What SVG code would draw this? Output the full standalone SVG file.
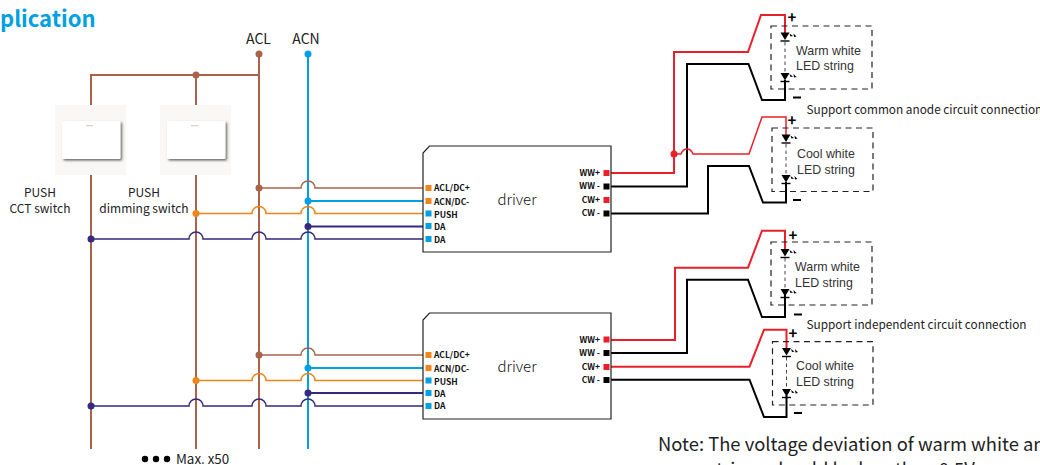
<svg xmlns="http://www.w3.org/2000/svg" width="1040" height="465" viewBox="0 0 1040 465">
<style>
text{font-family:"Noto Sans CJK SC","Noto Sans",sans-serif;fill:#222}
.a{font-family:"Liberation Sans",Arial,sans-serif;font-size:12.400px;fill:#333}
.s{font-size:12px}
.n{font-size:11.800px}
.m{text-anchor:middle}
.p{font-size:8.500px;font-weight:700;fill:#111}
.e{text-anchor:end}
.w{fill:none;stroke-width:2;stroke-linejoin:miter}
.t{fill:none;stroke-width:1.500}
.br{stroke:#a9634a}.bl{stroke:#00a0e2}.or{stroke:#f08519}.nv{stroke:#36297f}.rd{stroke:#e8202a}.bk{stroke:#000}
.box{fill:#fff;stroke:#222;stroke-width:1.200}
.d{fill:none;stroke:#222;stroke-width:1.200;stroke-dasharray:6 4.500}
.plate{fill:#f9f8f6}
.key{fill:#fff}
.chain{fill:none;stroke:#444;stroke-dasharray:3.500 3}
.drv{font-size:15px;font-weight:300;fill:#111}
</style>
<defs>
<filter id="sh" x="-10%" y="-10%" width="125%" height="125%"><feDropShadow dx="1.500" dy="1.500" stdDeviation="1" flood-color="#555" flood-opacity=".9"/></filter>
<g id="led"><path d="M-4.500-4H4.500L0 3.500Z" fill="#000"/><path d="M-4.500 4.500H4.500" stroke="#000" stroke-width="1.400"/><path d="M4.500-3L8-.500L5.500 0ZM8.500-3L11.500 0L9 .500Z" fill="#000"/></g>
<g id="sw"><rect class="plate" width="71" height="70"/><rect class="key" x="7" y="16" width="58.500" height="38" rx="1" filter="url(#sh)"/><rect x="31" y="20" width="7" height="1.300" fill="#d8d4c8"/></g>
<g id="drv"><path class="box" d="M429.500 0H611V106H423V7Z"/></g>
</defs>
<text x="0" y="27" font-size="22" font-weight="700" style="fill:#00a0e2">plication</text>
<g id="connectors">
<path class="w br" d="M91 105V75H259M196 105V75M91 174V449M196 174V449M259 54V449"/>
<path class="w bl" d="M308 54V449"/>
<g id="wires-top">
<path class="t br" d="M259 188H301A7 7 0 0 1 315 188H426"/>
<path class="w bl" d="M308 201H426"/>
<path class="t or" d="M196 213.500H252A7 7 0 0 1 266 213.500H301A7 7 0 0 1 315 213.500H426"/>
<path class="w nv" d="M308 226.500H426"/>
<path class="t nv" d="M91 239H189A7 7 0 0 1 203 239H252A7 7 0 0 1 266 239H301A7 7 0 0 1 315 239H426"/>
</g>
<g id="wires-bottom">
<path class="t br" d="M259 355H301A7 7 0 0 1 315 355H426"/>
<path class="w bl" d="M308 368H426"/>
<path class="t or" d="M196 380.500H252A7 7 0 0 1 266 380.500H301A7 7 0 0 1 315 380.500H426"/>
<path class="w nv" d="M308 393H426"/>
<path class="t nv" d="M91 406H189A7 7 0 0 1 203 406H252A7 7 0 0 1 266 406H301A7 7 0 0 1 315 406H426"/>
</g>
<path class="w rd" d="M609 173H674V52H748L761 15H785V33"/>
<path class="w bk" d="M609 186.500H687V64H748.500L762 100H785V80"/>
<path class="t rd" d="M674 154H681Q683 149 687 149Q691 149 693 154H749L762 117H786V135"/>
<path class="w bk" d="M609 213.500H708V166H749L763 202.500H786V182"/>
<path class="w rd" d="M609 340H675V267.700H748L762 230.700H785V249"/>
<path class="w bk" d="M609 353H687V279.700H748L762 317H785V295"/>
<path class="w rd" d="M609 366.700H749.500L764 329.700H786.500V348"/>
<path class="w bk" d="M609 379.700H749.500L764 417H786.500V395"/>
<g fill="#a9634a"><circle cx="259" cy="54" r="3.500"/><circle cx="196" cy="75" r="3.500"/><circle cx="259" cy="188" r="3.500"/><circle cx="259" cy="355" r="3.500"/></g>
<g fill="#00a0e2"><circle cx="308" cy="54" r="3.500"/><circle cx="308" cy="201" r="3.500"/><circle cx="308" cy="368" r="3.500"/></g>
<g fill="#f08519"><circle cx="196" cy="213.500" r="3.500"/><circle cx="196" cy="380.500" r="3.500"/></g>
<g fill="#36297f"><circle cx="91" cy="239" r="3.500"/><circle cx="308" cy="226.500" r="3.500"/><circle cx="91" cy="406" r="3.500"/><circle cx="308" cy="393" r="3.500"/></g>
<circle cx="674" cy="154" r="3.500" fill="#e8202a"/>
</g>
<g id="label-acl"><text class="m" x="258.500" y="44" font-size="14">ACL</text></g>
<g id="label-acn"><text class="m" x="306" y="44" font-size="14">ACN</text></g>
<g id="switch-cct"><use href="#sw" x="55" y="105"/><text class="s m" x="40" y="196.500">PUSH</text><text class="s m" x="40" y="212.500">CCT switch</text></g>
<g id="switch-dim"><use href="#sw" x="160" y="105"/><text class="s m" x="144" y="196.500">PUSH</text><text class="s m" x="144" y="212.500">dimming switch</text></g>
<g id="driver-top">
<use href="#drv" y="146"/>
<g fill="#f08519"><rect x="425.500" y="185" width="6" height="6"/><rect x="425.500" y="198" width="6" height="6"/></g>
<g fill="#00a0e2"><rect x="425.500" y="210.500" width="6" height="6"/><rect x="425.500" y="223" width="6" height="6"/><rect x="425.500" y="236" width="6" height="6"/></g>
<text class="p" x="434" y="191">ACL/DC+</text><text class="p" x="434" y="204.500">ACN/DC-</text><text class="p" x="434" y="218">PUSH</text><text class="p" x="434" y="230">DA</text><text class="p" x="434" y="242.500">DA</text>
<text class="m drv" x="517" y="205">driver</text>
<rect x="603.500" y="170" width="6" height="6" fill="#e8202a"/><rect x="603.500" y="183.500" width="6" height="6" fill="#000"/><rect x="603.500" y="197" width="6" height="6" fill="#e8202a"/><rect x="603.500" y="210.500" width="6" height="6" fill="#000"/>
<text class="p e" x="600" y="176">WW+</text><text class="p e" x="600" y="189">WW -</text><text class="p e" x="600" y="203">CW+</text><text class="p e" x="600" y="216">CW -</text>
</g>
<g id="driver-bottom">
<use href="#drv" y="313"/>
<g fill="#f08519"><rect x="425.500" y="352" width="6" height="6"/><rect x="425.500" y="365" width="6" height="6"/></g>
<g fill="#00a0e2"><rect x="425.500" y="377.500" width="6" height="6"/><rect x="425.500" y="390" width="6" height="6"/><rect x="425.500" y="403" width="6" height="6"/></g>
<text class="p" x="434" y="358">ACL/DC+</text><text class="p" x="434" y="371.500">ACN/DC-</text><text class="p" x="434" y="385">PUSH</text><text class="p" x="434" y="397">DA</text><text class="p" x="434" y="409">DA</text>
<text class="m drv" x="517" y="372">driver</text>
<rect x="603.500" y="336.500" width="6" height="6" fill="#e8202a"/><rect x="603.500" y="350" width="6" height="6" fill="#000"/><rect x="603.500" y="364" width="6" height="6" fill="#e8202a"/><rect x="603.500" y="377" width="6" height="6" fill="#000"/>
<text class="p e" x="600" y="342.500">WW+</text><text class="p e" x="600" y="356">WW -</text><text class="p e" x="600" y="370">CW+</text><text class="p e" x="600" y="383">CW -</text>
</g>
<g id="led-warm-top">
<rect class="d" x="771" y="26" width="101" height="63"/>
<path class="chain" d="M785 42V73"/>
<use href="#led" x="785" y="36.500"/><use href="#led" x="785" y="77"/>
<text class="a" x="796" y="54.500">Warm white</text><text class="a" x="796" y="70">LED string</text>
<text x="792" y="23" font-size="15" font-weight="700" class="m" style="fill:#000">+</text><rect x="793" y="96.500" width="8" height="2"/>
</g>
<g id="led-cool-top">
<rect class="d" x="772" y="128" width="101" height="63.500"/>
<path class="chain" d="M786 144V175"/>
<use href="#led" x="786" y="138.500"/><use href="#led" x="786" y="179"/>
<text class="a" x="797" y="158">Cool white</text><text class="a" x="797" y="174">LED string</text>
<text x="792" y="126" font-size="15" font-weight="700" class="m" style="fill:#000">+</text><rect x="793" y="199" width="8" height="2"/>
</g>
<g id="led-warm-bottom">
<rect class="d" x="771" y="242" width="101" height="63"/>
<path class="chain" d="M785 258V289"/>
<use href="#led" x="785" y="253"/><use href="#led" x="785" y="293"/>
<text class="a" x="795" y="271">Warm white</text><text class="a" x="795" y="286.700">LED string</text>
<text x="793" y="241" font-size="15" font-weight="700" class="m" style="fill:#000">+</text><rect x="794" y="313.500" width="8" height="2"/>
</g>
<g id="led-cool-bottom">
<rect class="d" x="772.500" y="341.700" width="100.500" height="63.300"/>
<path class="chain" d="M786.500 357V389"/>
<use href="#led" x="786.500" y="352"/><use href="#led" x="786.500" y="393"/>
<text class="a" x="796" y="370">Cool white</text><text class="a" x="796" y="386">LED string</text>
<text x="793" y="339" font-size="15" font-weight="700" class="m" style="fill:#000">+</text><rect x="794" y="412" width="8" height="2"/>
</g>
<text class="n" x="806.500" y="114">Support common anode circuit connection</text>
<text class="n" x="806.500" y="329">Support independent circuit connection</text>
<g fill="#000"><circle cx="145" cy="459" r="3.200"/><circle cx="156" cy="459" r="3.200"/><circle cx="167" cy="459" r="3.200"/></g>
<text x="176" y="463.500" font-size="13.400">Max. x50</text>
<text x="658" y="451" font-size="18.400">Note: The voltage deviation of warm white ar</text>
<text x="708" y="476" font-size="18.400">strings should be less than 0.5V</text>
</svg>
